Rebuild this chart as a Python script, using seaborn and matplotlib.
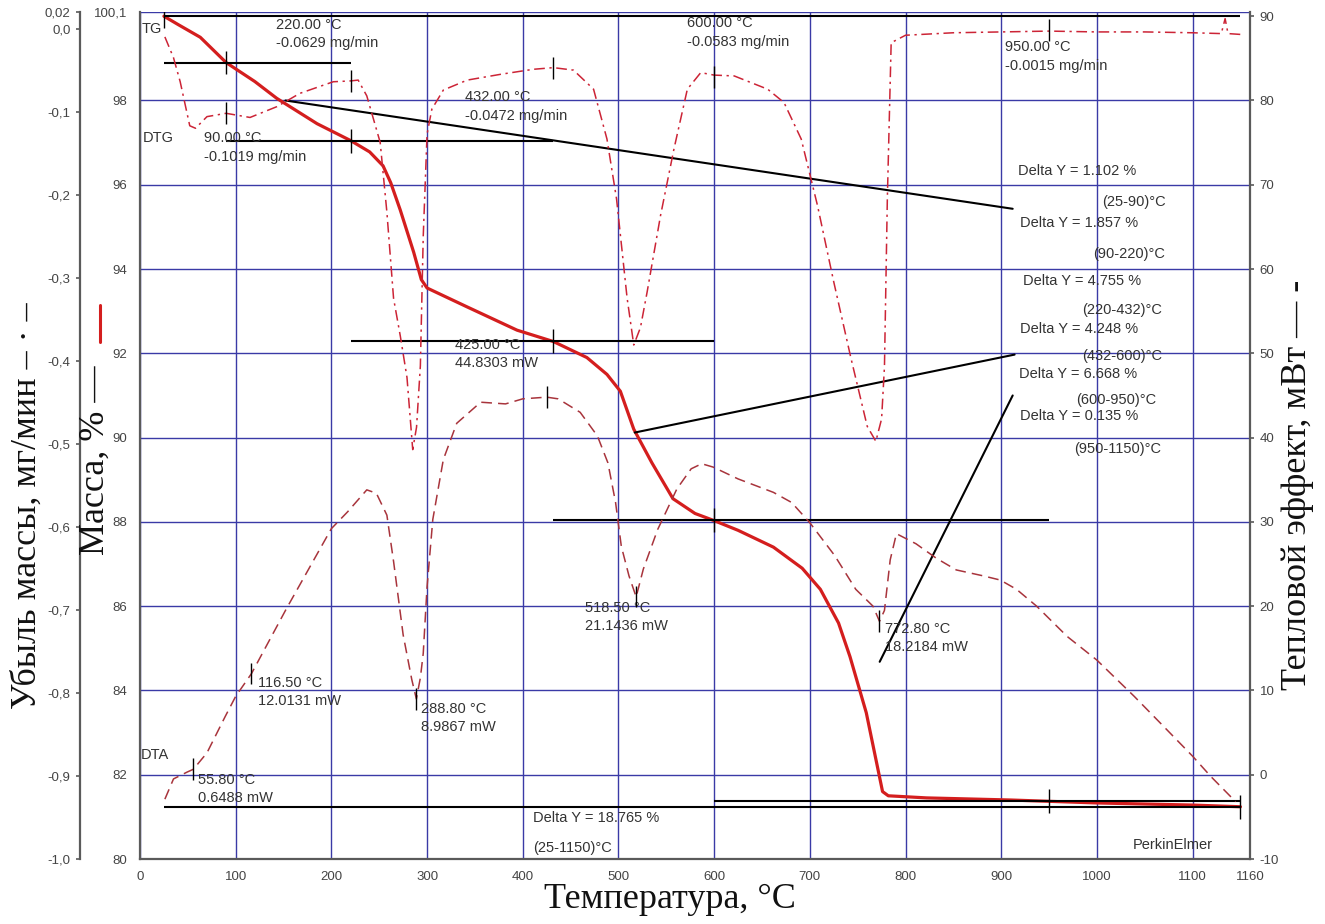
import matplotlib
matplotlib.use("Agg")
import matplotlib.pyplot as plt
from matplotlib.lines import Line2D
import seaborn as sns

# ---- data ----
# TG: mass, %
tg_temp = [25, 40, 63, 90, 120, 143, 185, 220, 240, 254,
           262, 272, 286, 294, 300, 342, 394, 432, 467, 488,
           502, 516, 535, 557, 580, 600, 625, 662, 692, 711,
           730, 742, 759, 776, 782, 822, 910, 1000, 1100, 1150]
tg_mass = [100.0, 99.8, 99.5, 98.9, 98.45, 98.05, 97.45, 97.05, 96.78, 96.45,
           96.05, 95.4, 94.4, 93.75, 93.55, 93.1, 92.55, 92.28, 91.9, 91.5,
           91.1, 90.2, 89.4, 88.55, 88.2, 88.03, 87.8, 87.4, 86.9, 86.4,
           85.6, 84.8, 83.47, 81.6, 81.5, 81.45, 81.4, 81.33, 81.28, 81.24]

# DTG: mg/min
dtg_temp = [26, 35, 42, 52, 58, 70, 90, 115, 143, 167,
            202, 220, 228, 237, 251, 258, 265, 272, 279, 285,
            289, 293, 296, 300, 305, 317, 342, 377, 411, 432,
            453, 474, 488, 498, 509, 516, 523, 530, 544, 558,
            572, 586, 600, 621, 656, 673, 691, 708, 725, 743,
            760, 769, 775, 778, 781, 785, 800, 850, 900, 950,
            1000, 1050, 1100, 1130, 1134, 1137, 1150]
dtg_rate = [-0.010, -0.035, -0.064, -0.117, -0.120, -0.106, -0.102, -0.107, -0.094, -0.078,
            -0.064, -0.063, -0.062, -0.081, -0.137, -0.221, -0.325, -0.370, -0.420, -0.507,
            -0.480, -0.406, -0.250, -0.127, -0.097, -0.074, -0.062, -0.055, -0.049, -0.047,
            -0.050, -0.073, -0.133, -0.205, -0.324, -0.381, -0.360, -0.317, -0.225, -0.145,
            -0.073, -0.053, -0.056, -0.057, -0.073, -0.089, -0.133, -0.213, -0.305, -0.397,
            -0.479, -0.497, -0.470, -0.407, -0.205, -0.017, -0.008, -0.005, -0.004, -0.003,
            -0.004, -0.004, -0.005, -0.006, 0.012, -0.006, -0.007]

# DTA: mW
dta_temp = [26, 35, 49, 55.8, 70, 89, 100, 116.5, 153, 200,
            217, 237, 247, 258, 265, 275, 284, 288.8, 293, 296,
            300, 306, 317, 331, 356, 382, 400, 425, 437, 460,
            478, 489, 497, 503, 511, 518.5, 526, 541, 561, 576,
            587, 599, 625, 662, 681, 700, 726, 748, 766, 772.8,
            778, 784, 790.5, 811, 832, 853, 881, 899, 916, 937,
            969, 1000, 1039, 1070, 1100, 1119, 1145]
dta_heat = [-2.9, -0.5, 0.3, 0.65, 2.6, 6.9, 9.3, 12.0, 19.7, 29.2,
            31.2, 33.8, 33.4, 30.8, 25.3, 16.6, 11.3, 9.0, 11.5, 14.4,
            22.3, 30.3, 37.4, 41.7, 44.2, 44.0, 44.6, 44.8, 44.6, 43.0,
            40.2, 37.0, 32.3, 27.1, 23.6, 21.1, 24.4, 29.1, 33.9, 36.3,
            36.9, 36.5, 35.1, 33.5, 32.3, 29.9, 26.0, 22.0, 20.0, 18.2,
            19.5, 25.5, 28.6, 27.4, 25.7, 24.3, 23.6, 23.1, 22.0, 20.0,
            16.4, 13.6, 9.3, 5.7, 2.2, -0.2, -3.2]

# step analysis (TG)
step_temp = [25, 90, 220, 432, 600, 950, 1150]
step_mass = [100.0, 98.9, 97.04, 92.29, 88.04, 81.37, 81.24]
delta_y = ["1.102", "1.857", "4.755", "4.248", "6.668", "0.135"]
total_delta = "18.765"

# peak picks
dtg_peak_temp = [90, 220, 432, 600, 950]
dtg_peak_rate = [-0.1019, -0.0629, -0.0472, -0.0583, -0.0015]
dta_peak_temp = [55.8, 116.5, 288.8, 425.0, 518.5, 772.8]
dta_peak_heat = [0.6488, 12.0131, 8.9867, 44.8303, 21.1436, 18.2184]

x_ticks = [0, 100, 200, 300, 400, 500, 600, 700, 800, 900, 1000, 1100, 1160]
mass_ticks = [80, 82, 84, 86, 88, 90, 92, 94, 96, 98, 100.1]
dtg_ticks = [-1.0, -0.9, -0.8, -0.7, -0.6, -0.5, -0.4, -0.3, -0.2, -0.1, 0.0, 0.02]
dta_ticks = [-10, 0, 10, 20, 30, 40, 50, 60, 70, 80, 90]

# ---- style ----
RED_TG = "#d41e1e"
RED_DTG = "#cc2436"
RED_DTA = "#a8343c"
GRID = "#3a3aa6"
SPINE = "#5a5a5a"
TXT = "#333333"
SERIF = ["Liberation Serif", "DejaVu Serif"]

sns.set_theme(style="white")
plt.rcParams["font.family"] = ["Liberation Sans", "DejaVu Sans"]

W, H = 1325, 924
fig = plt.figure(figsize=(W / 100, H / 100), dpi=100)
ax = fig.add_axes([140 / W, 65 / H, 1110 / W, 847 / H])
ax_dtg = ax.twinx()
ax_dta = ax.twinx()

# curves
sns.lineplot(x=tg_temp, y=tg_mass, ax=ax, color=RED_TG, linewidth=2.3, sort=False)
sns.lineplot(x=dtg_temp, y=dtg_rate, ax=ax_dtg, color=RED_DTG, linewidth=1.1,
             linestyle=(0, (7, 3, 1.5, 3)), sort=False)
sns.lineplot(x=dta_temp, y=dta_heat, ax=ax_dta, color=RED_DTA, linewidth=1.1,
             linestyle=(0, (7, 4)), sort=False)

# step baselines
ax.hlines(step_mass[0], step_temp[0], step_temp[-1], color="black", lw=1.5)
ax.hlines(step_mass[-1], step_temp[0], step_temp[-1], color="black", lw=1.5)
for i in range(1, len(step_temp) - 1):
    ax.hlines(step_mass[i], step_temp[i - 1], step_temp[i + 1], color="black", lw=1.5)
ax.vlines(step_temp, [m - 0.28 for m in step_mass], [m + 0.28 for m in step_mass],
          color="black", lw=1.0)

# leader lines to the step labels
leaders = [((152, 98.0), (912, 95.43)),
           ((517, 90.12), (914, 91.97)),
           ((773, 84.68), (912, 91.0))]
for (t0, m0), (t1, m1) in leaders:
    ax.plot([t0, t1], [m0, m1], color="black", lw=1.5)

ax_dtg.vlines(dtg_peak_temp, [v - 0.013 for v in dtg_peak_rate],
              [v + 0.013 for v in dtg_peak_rate], color="black", lw=1.0)
ax_dta.vlines(dta_peak_temp, [v - 1.3 for v in dta_peak_heat],
              [v + 1.3 for v in dta_peak_heat], color="black", lw=1.0)

# limits / ticks
ax.set_xlim(0, 1160)
ax.set_ylim(80, 100.1)
ax_dtg.set_ylim(-1.0, 0.02)
ax_dta.set_ylim(-10, 90.5)

ax.set_xticks(x_ticks)
ax.set_xticklabels([str(t) for t in x_ticks])
ax.set_yticks(mass_ticks)
ax.set_yticklabels([f"{t:g}".replace(".", ",") for t in mass_ticks])
ax_dtg.set_yticks(dtg_ticks)
ax_dtg.set_yticklabels(["0,02" if t == 0.02 else f"{t:.1f}".replace(".", ",").replace("-0,0", "0,0")
                        for t in dtg_ticks])
ax_dta.set_yticks(dta_ticks)
ax_dta.set_yticklabels([str(t) for t in dta_ticks])

ax.grid(True, color=GRID, lw=1.0)
ax.set_axisbelow(True)

for a in (ax, ax_dtg, ax_dta):
    a.set_xlabel("")
    a.set_ylabel("")
    for s in a.spines.values():
        s.set_visible(False)
        s.set_color(SPINE)
        s.set_linewidth(1.6)

ax.spines["left"].set_visible(True)
ax.spines["bottom"].set_visible(True)
ax_dta.spines["right"].set_visible(True)
ax_dtg.spines["left"].set_visible(True)
ax_dtg.spines["left"].set_position(("outward", 43))
ax_dtg.yaxis.tick_left()

ax.tick_params(axis="x", length=0, pad=9, labelsize=9.5, labelcolor="#444444")
ax.tick_params(axis="y", length=0, pad=9, labelsize=9.5, labelcolor="#444444")
ax_dtg.tick_params(axis="y", length=3, width=1.2, color=SPINE, pad=4,
                   labelsize=9.5, labelcolor="#444444")
ax_dta.tick_params(axis="y", length=3, width=1.2, color=SPINE, pad=4,
                   labelsize=9.5, labelcolor="#444444")

# ---- annotations (temperature, mass coordinates) ----
def note(t, m, s, **kw):
    ax.text(t, m, s, fontsize=10.5, color=TXT, va="center", ha="left", **kw)

note(2, 99.69, "TG")
note(3, 97.11, "DTG")
note(1, 82.46, "DTA")

dtg_note_pos = [(67, 97.10), (142, 99.80), (340, 98.08), (572, 99.83), (904, 99.27)]
for (t, m), pt, pv in zip(dtg_note_pos, dtg_peak_temp, dtg_peak_rate):
    note(t, m, f"{pt:.2f} °C")
    note(t, m - 0.44, f"{pv:.4f} mg/min")

dta_note_pos = [(60.6, 81.87), (123, 84.18), (293.6, 83.57), (329, 92.20), (465, 85.96), (778.5, 85.45)]
for (t, m), pt, pv in zip(dta_note_pos, dta_peak_temp, dta_peak_heat):
    note(t, m, f"{pt:.2f} °C")
    note(t, m - 0.43, f"{pv:.4f} mW")

delta_pos = [(917.5, 96.33), (919.5, 95.09), (922.7, 93.72), (919.5, 92.58), (918.5, 91.52), (919.5, 90.52)]
range_pos = [(1005, 95.59), (996, 94.36), (985, 93.03), (985, 91.94), (978, 90.90), (976, 89.72)]
for i, d in enumerate(delta_y):
    note(*delta_pos[i], f"Delta Y = {d} %")
    note(*range_pos[i], f"({step_temp[i]}-{step_temp[i + 1]})°C")

note(410.7, 80.98, f"Delta Y = {total_delta} %")
note(410.7, 80.27, f"({step_temp[0]}-{step_temp[-1]})°C")
note(1037.6, 80.33, "PerkinElmer")

# ---- axis titles ----
fig.text(27 / W, 1 - 506 / H, "Убыль массы, мг/мин – · –", rotation=90,
         ha="center", va="center", fontsize=26, family=SERIF, color="#111111")
fig.text(95 / W, 1 - 460 / H, "Масса, % —", rotation=90,
         ha="center", va="center", fontsize=26, family=SERIF, color="#111111")
fig.add_artist(Line2D([100 / W, 100 / W], [1 - 342 / H, 1 - 305 / H],
                      transform=fig.transFigure, color=RED_TG, lw=2.2))
fig.text(1297 / W, 1 - 485 / H, "Тепловой эффект, мВт — -", rotation=90,
         ha="center", va="center", fontsize=26, family=SERIF, color="#111111")
fig.text(670 / W, 1 - 900 / H, "Температура, °C",
         ha="center", va="center", fontsize=26, family=SERIF, color="#111111")

fig.savefig("out.png", dpi=100, facecolor="white")
